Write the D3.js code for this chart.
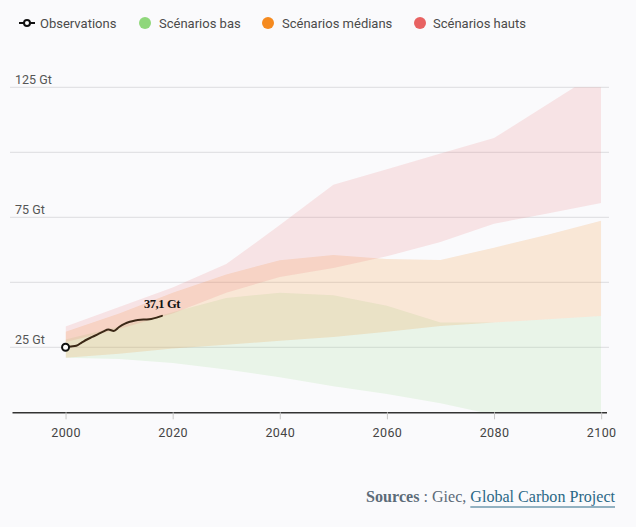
<!DOCTYPE html>
<html>
<head>
<meta charset="utf-8">
<script src="https://cdn.jsdelivr.net/npm/d3@7"></script>
<style>
  html, body { margin: 0; padding: 0; background: #fafafc; }
  svg { display: block; }
</style>
</head>
<body>
<svg id="chart" width="636" height="527"></svg>
<script>
// ---------- DATA ----------
const years = [2000, 2010, 2020, 2030, 2040, 2050, 2060, 2070, 2080, 2090, 2100];
const highUpper = [33, 40.5, 48, 57, 72, 87.5, 93.5, 99.5, 105.5, 118.5, 131.5];
const highLower = [27, 32, 38, 46, 52, 55.5, 60, 65.5, 72.5, 76.5, 80.5];
const medUpper  = [31, 38, 46, 53, 58.5, 60.5, 59, 58.6, 63.3, 68.3, 73.7];
const medLower  = [21, 22.5, 24.5, 26, 27.5, 29, 31, 33.2, 34.5, 35.8, 37];
const lowUpper  = [28, 33, 38.5, 44, 46, 45, 41, 34.5, 34.5, 35.8, 37];
const lowLower  = [21, 20.5, 19, 16.5, 13.5, 10, 7, 3.5, -1, -5, -8];

const obsYears  = [2000, 2001, 2002, 2003, 2004, 2005, 2006, 2007, 2008, 2009,
                   2010, 2011, 2012, 2013, 2014, 2015, 2016, 2017, 2018];
const obsValues = [25.0, 25.3, 25.6, 26.8, 28.0, 29.0, 30.0, 31.0, 31.8, 31.3,
                   32.8, 34.0, 34.8, 35.3, 35.6, 35.7, 35.9, 36.4, 37.1];

const yTicks = [25, 50, 75, 100, 125];
const yLabelTicks = [25, 75, 125];
const xTicks = [2000, 2020, 2040, 2060, 2080, 2100];

const legendNames = ["Observations", "Scénarios bas", "Scénarios médians", "Scénarios hauts"];
const bandColors = { low: "#8fd77b", med: "#f58a1f", high: "#e86262" };

// ---------- SCALES ----------
const svg = d3.select("#chart");
const x = d3.scaleLinear().domain([1990, 2101]).range([12, 606.5]);
const y = d3.scaleLinear().domain([0, 125]).range([412.3, 87.3]);

const sansFont = "Roboto, 'Noto Sans', sans-serif";
const serifFont = "'Liberation Serif', 'DejaVu Serif', serif";

// fit a text element to a target width by adjusting font size
function fitWidth(sel, target) {
  const node = sel.node();
  const w = node.getComputedTextLength();
  const fs = parseFloat(sel.attr("font-size"));
  if (w > 0) sel.attr("font-size", fs * target / w);
}

// ---------- GRID ----------
svg.append("g").selectAll("line").data(yTicks).join("line")
  .attr("x1", 10).attr("x2", 609)
  .attr("y1", d => y(d)).attr("y2", d => y(d))
  .attr("stroke", "#dcdcdf").attr("stroke-width", 1);

svg.append("g").selectAll("text").data(yLabelTicks).join("text")
  .attr("x", 15).attr("y", d => y(d) - 3)
  .attr("font-family", sansFont).attr("font-size", 12.5)
  .attr("fill", "#555").text(d => d + " Gt");

// ---------- BANDS ----------
svg.append("clipPath").attr("id", "plotClip").append("rect")
  .attr("x", x(2000)).attr("y", y(125))
  .attr("width", x(2100) - x(2000)).attr("height", y(0) - y(125));

const area = (up, lo) => d3.area()
  .x((d, i) => x(years[i]))
  .y0((d, i) => y(lo[i]))
  .y1((d, i) => y(up[i]))
  .curve(d3.curveLinear)(years);

const bands = svg.append("g").attr("clip-path", "url(#plotClip)");
bands.append("path").attr("d", area(lowUpper, lowLower))
  .attr("fill", bandColors.low).attr("fill-opacity", 0.15);
bands.append("path").attr("d", area(medUpper, medLower))
  .attr("fill", bandColors.med).attr("fill-opacity", 0.17);
bands.append("path").attr("d", area(highUpper, highLower))
  .attr("fill", bandColors.high).attr("fill-opacity", 0.15);

// ---------- X AXIS ----------
const xAxis = svg.append("g").attr("transform", `translate(0,${y(0)})`)
  .call(d3.axisBottom(x).tickValues(xTicks).tickSize(7).tickSizeOuter(0).tickFormat(d3.format("d")));
xAxis.select(".domain").attr("stroke", "#333").attr("stroke-width", 1.5);
xAxis.selectAll(".tick line").attr("stroke", "#c8c8c8");
xAxis.selectAll(".tick text").attr("font-family", sansFont).attr("font-size", 12.5)
  .attr("fill", "#444").attr("dy", "1.2em").attr("letter-spacing", 0.4);

// ---------- OBSERVATIONS ----------
const line = d3.line().x((d, i) => x(obsYears[i])).y(d => y(d)).curve(d3.curveMonotoneX);
svg.append("path").datum(obsValues).attr("d", line)
  .attr("fill", "none").attr("stroke", "#3b2816").attr("stroke-width", 2)
  .attr("stroke-linejoin", "round").attr("stroke-linecap", "round");
svg.append("circle").attr("cx", x(obsYears[0])).attr("cy", y(obsValues[0])).attr("r", 3.5)
  .attr("fill", "#fff").attr("stroke", "#111").attr("stroke-width", 2);

const lastI = obsValues.length - 1;
svg.append("text")
  .attr("x", x(obsYears[lastI])).attr("y", y(obsValues[lastI]) - 8)
  .attr("text-anchor", "middle").attr("font-family", serifFont)
  .attr("font-weight", "bold").attr("font-size", 12.5).attr("letter-spacing", -0.4)
  .attr("fill", "#111")
  .text(d3.format(".1f")(obsValues[lastI]).replace(".", ",") + " Gt");

// ---------- LEGEND ----------
const lg = svg.append("g").attr("font-family", sansFont).attr("font-size", 13).attr("fill", "#4a4a4a");
lg.append("line").attr("x1", 19).attr("x2", 35).attr("y1", 23).attr("y2", 23)
  .attr("stroke", "#111").attr("stroke-width", 2);
lg.append("circle").attr("cx", 27).attr("cy", 23).attr("r", 3)
  .attr("fill", "#fff").attr("stroke", "#111").attr("stroke-width", 2);
lg.append("text").attr("x", 40).attr("y", 27.5).text(legendNames[0]);
const legendItems = [
  { c: bandColors.low, cx: 145, tx: 159, name: legendNames[1] },
  { c: bandColors.med, cx: 268, tx: 282, name: legendNames[2] },
  { c: bandColors.high, cx: 420, tx: 433, name: legendNames[3] }
];
legendItems.forEach(it => {
  lg.append("circle").attr("cx", it.cx).attr("cy", 23).attr("r", 6).attr("fill", it.c);
  lg.append("text").attr("x", it.tx).attr("y", 27.5).text(it.name);
});

// ---------- SOURCE ----------
const src = svg.append("text").attr("x", 615).attr("y", 501.5).attr("text-anchor", "end")
  .attr("font-family", serifFont).attr("font-size", 15.5).attr("fill", "#5c6b78");
src.append("tspan").attr("font-weight", "bold").text("Sources");
src.append("tspan").text(" : Giec, ");
src.append("tspan").attr("fill", "#2a6886").text("Global Carbon Project");
fitWidth(src, 249);
const linkW = src.node().getSubStringLength(src.text().length - 21, 21);
svg.append("line").attr("x1", 615 - linkW).attr("x2", 615)
  .attr("y1", 507).attr("y2", 507).attr("stroke", "#2a6886").attr("stroke-width", 1);
</script>
</body>
</html>
